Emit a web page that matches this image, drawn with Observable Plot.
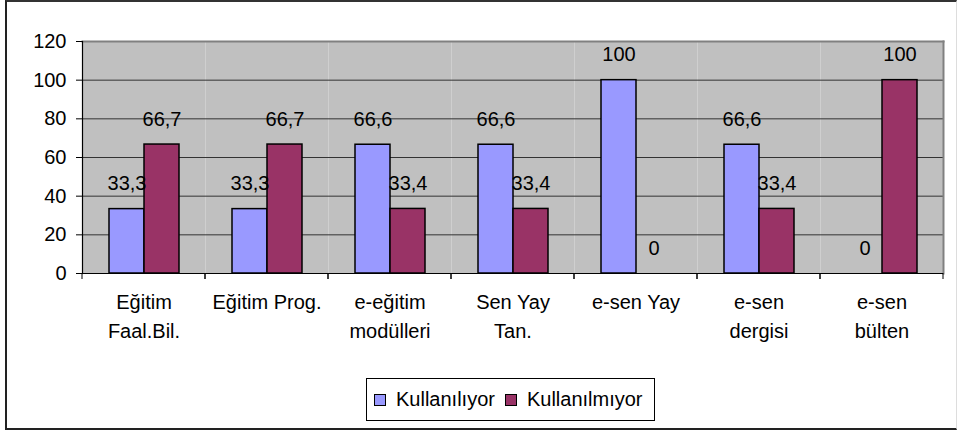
<!DOCTYPE html>
<html>
<head>
<meta charset="utf-8">
<script src="https://cdn.jsdelivr.net/npm/d3@7"></script>
<script src="https://cdn.jsdelivr.net/npm/@observablehq/plot@0.6"></script>
<style>
  body { margin: 0; background: #fff; }
  #wrap { position: relative; width: 960px; height: 432px; overflow: hidden;
          font-family: "Liberation Sans", Arial, sans-serif; }
  #border { position: absolute; left: 5px; top: 0; width: 952px; height: 430px; box-sizing: border-box;
            border-left: 2px solid #222; border-top: 2px solid #333; border-bottom: 2px solid #222;
            border-right: 1px solid #ddd; }
  #chart { position: absolute; left: 0; top: 0; }
  #legend { position: absolute; left: 366px; top: 378px; width: 289px; height: 43px; box-sizing: border-box;
            border: 1px solid #000; display: flex; align-items: center; font-size: 20px; color: #000; }
  .sw { display: inline-block; width: 10px; height: 10px; border: 1px solid #000; }
</style>
</head>
<body>
<div id="wrap">
  <div id="border"></div>
  <div id="chart"></div>
  <div id="legend"></div>
</div>
<script>
const categories = ["Eğitim\nFaal.Bil.", "Eğitim Prog.", "e-eğitim\nmodülleri", "Sen Yay\nTan.", "e-sen Yay", "e-sen\ndergisi", "e-sen\nbülten"];
const series = ["Kullanılıyor", "Kullanılmıyor"];
const used = [33.3, 33.3, 66.6, 66.6, 100, 66.6, 0];
const notUsed = [66.7, 66.7, 33.4, 33.4, 0, 33.4, 100];
const colors = ["#9999FF", "#993366"];
const yTicks = [0, 20, 40, 60, 80, 100, 120];

const data = categories.flatMap((c, i) => [
  {cat: c, series: series[0], value: used[i]},
  {cat: c, series: series[1], value: notUsed[i]}
]);
const fmt = v => String(v).replace(".", ",");

// category boundary ticks below the axis (drawn in each facet at its edges)
const catTicks = (index, scales, values, dim) => {
  const g = d3.create("svg:g").attr("stroke", "#000");
  const yb = dim.height - dim.marginBottom;
  for (const x of [dim.marginLeft, dim.width - dim.marginRight]) {
    g.append("line").attr("x1", x).attr("x2", x).attr("y1", yb).attr("y2", yb + 6);
  }
  return g.node();
};

const plot = Plot.plot({
  width: 960, height: 360,
  marginLeft: 82, marginRight: 17, marginTop: 41, marginBottom: 87,
  style: {fontFamily: "'Liberation Sans', Arial, sans-serif", fontSize: "20px", color: "#000", background: "transparent", overflow: "visible"},
  fx: {domain: categories, padding: 0, label: null},
  x: {domain: series, paddingInner: 0, paddingOuter: 0.75, axis: null},
  y: {domain: [0, 120], label: null},
  color: {domain: series, range: colors},
  marks: [
    Plot.frame({fill: "#C0C0C0"}),
    Plot.ruleY(yTicks.slice(1, -1), {stroke: "#333", strokeWidth: 1}),
    Plot.frame({anchor: "top", stroke: "#808080", strokeWidth: 2, facet: "super"}),
    Plot.frame({anchor: "right", stroke: "#808080", strokeWidth: 2, facet: "super"}),
    Plot.barY(data, {fx: "cat", x: "series", y: "value", fill: "series", stroke: "#000", strokeWidth: 1.5}),
    Plot.text(data, {fx: "cat", x: "series", y: "value", text: d => fmt(d.value), lineAnchor: "bottom", dy: -19, fontSize: 20, fill: "#000"}),
    Plot.ruleY([0], {stroke: "#000", strokeWidth: 1.2}),
    Plot.frame({anchor: "left", stroke: "#000", strokeWidth: 1.2, facet: "super"}),
    Plot.axisY({ticks: yTicks, tickSize: 6, tickPadding: 10, fontSize: 20, label: null, stroke: "#000"}),
    Plot.axisFx({anchor: "bottom", tickSize: 0, tickPadding: 15, lineHeight: 1.45, fontSize: 20, label: null}),
    catTicks
  ]
});
document.getElementById("chart").appendChild(plot);

// legend
const lg = d3.select("#legend");
series.forEach((s, i) => {
  lg.append("span").attr("class", "sw")
    .style("background", colors[i])
    .style("margin-left", i === 0 ? "7px" : "10px");
  lg.append("span").text(s).style("margin-left", "10px");
});
</script>
</body>
</html>
